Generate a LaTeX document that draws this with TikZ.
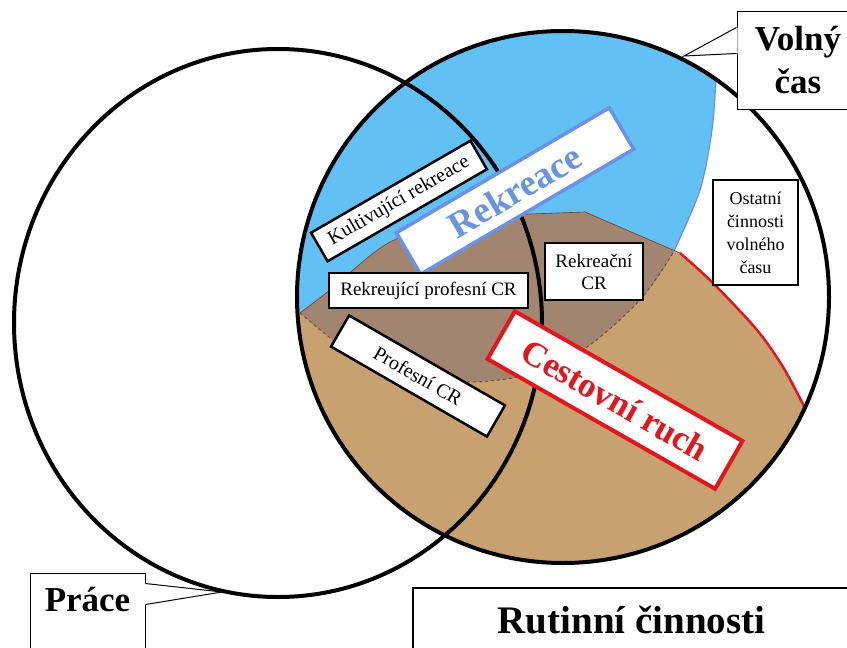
\documentclass[tikz,border=0pt]{standalone}
\usepackage{fontspec}
\setmainfont{Liberation Serif}
\usetikzlibrary{calc}

\definecolor{rekblue}{RGB}{98,192,245}
\definecolor{rekborder}{RGB}{105,145,230}
\definecolor{rektext}{RGB}{105,148,225}
\definecolor{crtan}{RGB}{200,161,112}
\definecolor{crdark}{RGB}{162,133,112}
\definecolor{crred}{RGB}{226,22,28}
\definecolor{crline}{RGB}{110,60,50}

\tikzset{
  ring/.style={draw=black, line width=4pt},
  tag/.style={draw=black, line width=2.5pt, fill=white, inner sep=0pt, align=center,
    font=\fontsize{19}{22}\selectfont},
  callout/.style={draw=black, line width=1pt, fill=white, inner sep=0pt, align=center,
    font=\fontsize{35}{43}\selectfont\bfseries},
  pointer/.style={draw=black, line width=1pt},
  % upper region of the right circle
  rekreace region/.style={insert path={-- (250,313) -- plot[smooth] coordinates{(300,313) (343,347) (400,375) (470,382) (530,374) (587,347) (640,300) (673,253) (700,190) (712,130) (716,78) (716,20)} -- (716,0) -- cycle}},
  % lower region of the right circle
  cr region/.style={insert path={-- (280,330) -- plot[smooth] coordinates{(300,313) (330,290) (390,242) (460,222) (530,214)} -- (585,212) -- (680,253) -- plot[smooth] coordinates{(680,253) (713,283) (757,330) (783,367) (805,408) (825,450)} -- (860,660) -- cycle}}
}

\begin{document}
\begin{tikzpicture}[x=1pt, y=-1pt]
  \useasboundingbox (0,0) rectangle (847,648);

  \begin{scope}
    \clip (563,297) circle[radius=266pt];
    \fill[rekblue] (250,0) [rekreace region];
    \fill[crtan] (280,660) [cr region];
  \end{scope}
  \begin{scope}
    \clip (563,297) circle[radius=266pt];
    \clip (250,0) [rekreace region];
    \fill[crdark] (280,660) [cr region];
  \end{scope}

  % region borders
  \draw[crline, line width=0.8pt, dashed] plot[smooth] coordinates{(300,313) (343,347) (400,375) (470,382) (530,374) (587,347) (640,300) (673,253)};
  \draw[rekborder, line width=1.2pt] plot[smooth] coordinates{(673,253) (700,190) (712,130) (716,78)};
  \draw[crline, line width=0.6pt] plot[smooth] coordinates{(300,313) (330,290) (390,242) (460,222) (530,214)} -- (585,212) -- (680,253);
  \draw[crred, line width=2.5pt] plot[smooth] coordinates{(680,253) (713,283) (757,330) (783,367) (805,408)};

  % circles
  \draw[ring] (278,323) ellipse[x radius=264pt, y radius=274pt];
  \draw[ring] (563,297) circle[radius=266pt];

  % labels inside
  \node[tag, rotate=30, minimum width=184pt, minimum height=33pt, font=\fontsize{20}{22}\selectfont] (kultivujici) at (399,201) {Kultivující rekreace};
  \node[tag, draw=rekborder, line width=3.5pt, rotate=30.4, minimum width=247pt, minimum height=48pt, text=rektext, font=\fontsize{37}{40}\selectfont\bfseries] (rekreace) at (515,191) {Rekreace};
  \node[tag, minimum width=199pt, minimum height=35pt] (rekprofesni) at (428.5,290.5) {Rekreující profesní CR};
  \node[tag, minimum width=98pt, minimum height=57pt] (rekcr) at (594,271.5) {Rekreační\\CR};
  \node[tag, rotate=-30, minimum width=180pt, minimum height=36pt, font=\fontsize{20}{22}\selectfont] (profesni) at (418,376) {Profesní CR};
  \node[tag, draw=crred, line width=4pt, rotate=-29.7, minimum width=262pt, minimum height=55pt, text=crred, font=\fontsize{35}{40}\selectfont\bfseries] (cestovni) at (615,400) {Cestovní ruch};
  \node[tag, line width=2pt, minimum width=85pt, minimum height=105pt, font=\fontsize{18}{23}\selectfont] (ostatni) at (755.5,232.5) {Ostatní\\činnosti\\volného\\času};

  % callouts
  \node[callout, minimum width=122pt, minimum height=98pt] (volny) at (798,60) {Volný\\čas};
  \coordinate (volnytip) at (684,56);
  \fill[white] ($(volny.north west)+(1,17)$) -- (volnytip) -- ($(volny.north west)+(1,43)$) -- cycle;
  \draw[pointer] ($(volny.north west)+(0,17)$) -- (volnytip) -- ($(volny.north west)+(0,43)$);

  \node[callout, font=\fontsize{35}{40}\selectfont\bfseries, minimum width=115pt, text height=38pt, text depth=50pt, anchor=base] (prace) at (87.5,611) {Práce};
  \coordinate (pracetip) at (222,592);
  \fill[white] ($(prace.north east)+(-1,11)$) -- (pracetip) -- ($(prace.north east)+(-1,32)$) -- cycle;
  \draw[pointer] ($(prace.north east)+(0,11)$) -- (pracetip) -- ($(prace.north east)+(0,32)$);

  \node[callout, line width=2pt, font=\fontsize{39}{42}\selectfont\bfseries, minimum width=437pt, text height=45pt, text depth=50pt, anchor=base] (rutinni) at (631.5,633) {Rutinní činnosti};
\end{tikzpicture}
\end{document}
